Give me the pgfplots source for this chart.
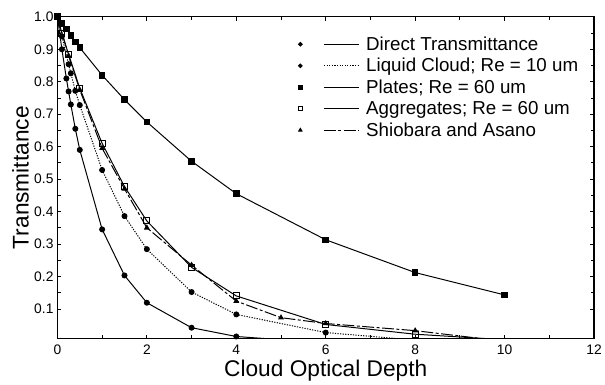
\documentclass[border=0pt]{standalone}
\usepackage{pgfplots}
\pgfplotsset{compat=1.18}
\usepackage{fontspec}
\setmainfont{Liberation Sans}
\newcommand\tl[1]{{\fontsize{14}{16}\selectfont #1}}
\begin{document}
\begin{tikzpicture}
\begin{axis}[
  scale only axis,
  width=542bp, height=325bp,
  xmin=0, xmax=12, ymin=0.0085, ymax=1.0,
  xtick={0,2,...,12}, minor x tick num=1,
  xticklabels={\tl{0},\tl{2},\tl{4},\tl{6},\tl{8},\tl{10},\tl{12}},
  ytick={0.1,0.2,0.3,0.4,0.5,0.6,0.7,0.8,0.9,1.0}, minor y tick num=1,
  yticklabels={\tl{0.1},\tl{0.2},\tl{0.3},\tl{0.4},\tl{0.5},\tl{0.6},\tl{0.7},\tl{0.8},\tl{0.9},\tl{1.0}},
  tick align=inside,
  major tick length=4bp, minor tick length=3.5bp,
  axis line style={line width=1.2bp},
  every tick/.style={black, line width=0.8bp},
  xticklabel style={yshift=-3bp},
  yticklabel style={xshift=-0.5bp},
  xlabel={Cloud Optical Depth},
  ylabel={Transmittance},
  every axis x label/.style={at={(axis description cs:0.5,-0.117)}, anchor=base, font=\fontsize{23}{26}\selectfont},
  every axis y label/.style={at={(axis description cs:-0.069,0.5)}, anchor=center, rotate=90, font=\fontsize{23}{26}\selectfont},
  legend style={at={(axis description cs:0.449,0.945)}, anchor=north west, draw=none, fill=none,
    font=\fontsize{19}{21}\selectfont, row sep=2.6bp, inner sep=0pt, nodes={inner sep=2bp}},
  legend cell align=left,
  legend image code/.code={
    \draw[#1, mark=none] (24bp,0bp) -- (59bp,0bp);
    \draw[#1, only marks, mark options={solid}, mark size=1.8bp] plot coordinates {(0bp,0bp)};
  },
  every axis plot/.append style={black, line width=1.0bp},
]
\addplot[mark=*, mark size=2.5bp, mark indices={1,...,12}] coordinates {
 (0,1.0) (0.1,0.90) (0.2,0.81) (0.25,0.77) (0.3,0.73) (0.4,0.655) (0.5,0.59)
 (1,0.345) (1.5,0.203) (2,0.119) (3,0.042) (4,0.015) (5,0.005)};
\addlegendentry{\hspace{5bp}Direct Transmittance}
\addplot[dash pattern=on 1.2bp off 1.4bp, mark=*, mark size=2.5bp, mark options={solid}, mark indices={1,...,12}] coordinates {
 (0,1.0) (0.1,0.94) (0.25,0.854) (0.3,0.826) (0.4,0.772) (0.5,0.728)
 (1,0.528) (1.5,0.386) (2,0.284) (3,0.152) (4,0.083) (6,0.027) (8,0.004)};
\addlegendentry{\hspace{5bp}Liquid Cloud; Re = 10 um}
\addplot[mark=square*, mark size=2.8bp] coordinates {
 (0,1.0) (0.1,0.98) (0.2,0.962) (0.3,0.943) (0.4,0.922) (0.5,0.905)
 (1,0.82) (1.5,0.745) (2,0.676) (3,0.555) (4,0.455) (6,0.313) (8,0.212) (10,0.143)};
\addlegendentry{\hspace{5bp}Plates; Re = 60 um}
\addplot[mark=square, mark size=3bp, mark indices={1,...,11}] coordinates {
 (0,1.0) (0.1,0.95) (0.25,0.884) (0.5,0.78) (1,0.61) (1.5,0.477) (2,0.371)
 (3,0.228) (4,0.14) (6,0.052) (8,0.022) (10,0.005)};
\addlegendentry{\hspace{5bp}Aggregates; Re = 60 um}
\addplot[dash pattern=on 12bp off 2.5bp on 3bp off 2.5bp, mark=triangle*, mark size=2.5bp, mark options={solid}, mark indices={1,...,11}] coordinates {
 (0,1.0) (0.25,0.88) (0.5,0.775) (1,0.595) (1.5,0.47) (2,0.35) (3,0.235)
 (4,0.124) (5,0.073) (6,0.055) (8,0.033) (10,0.0)};
\addlegendentry{\hspace{5bp}Shiobara and Asano}
\end{axis}
\path (-58bp,-41bp) rectangle (547bp,342bp);
\end{tikzpicture}
\end{document}
